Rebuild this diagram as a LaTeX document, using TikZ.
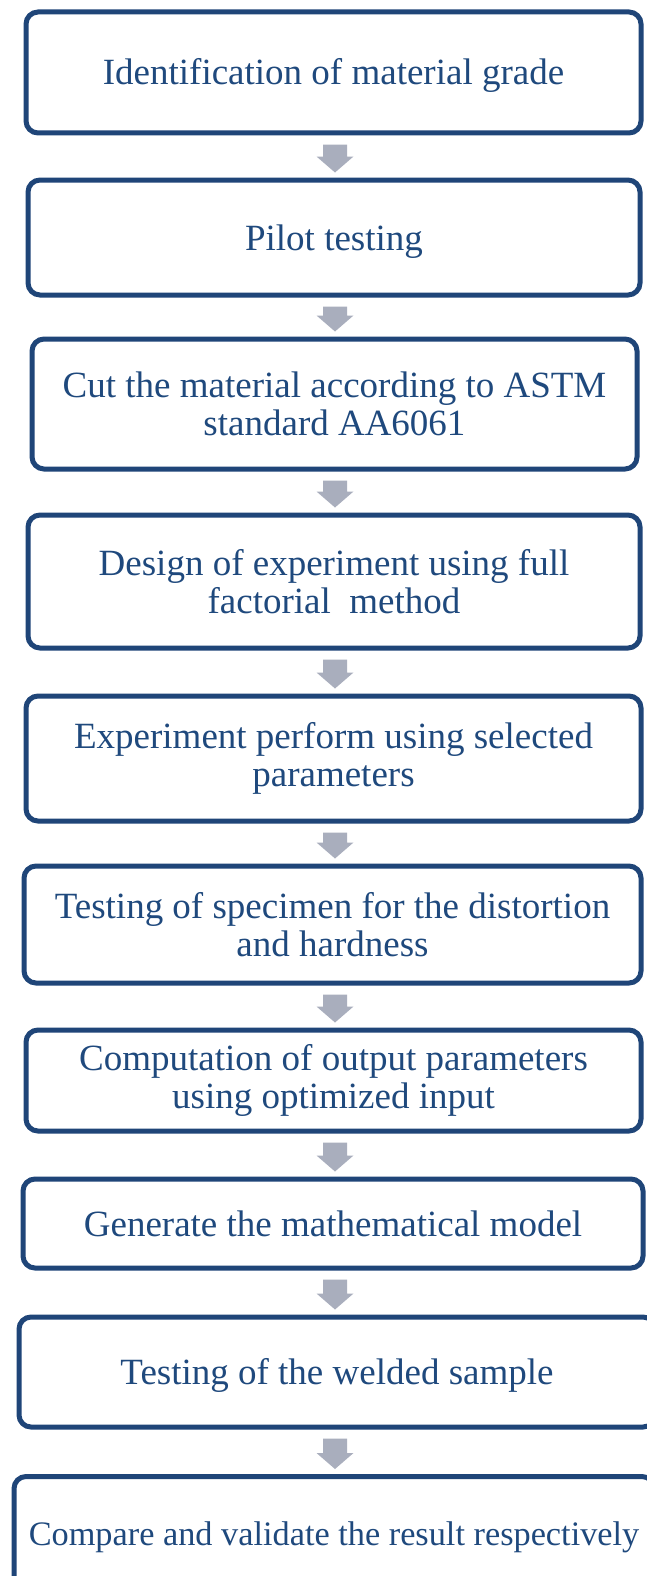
\documentclass[tikz,border=0pt]{standalone}
\usepackage{fontspec}
\setmainfont{Liberation Serif}
\usetikzlibrary{calc}
\definecolor{boxblue}{RGB}{31,69,120}
\definecolor{txtblue}{RGB}{31,73,125}
\definecolor{arrowgrey}{RGB}{169,174,189}
\tikzset{
  stepbox/.style={draw=boxblue, line width=5pt, rounded corners=12pt, fill=white,
    text=txtblue, align=center, inner sep=0pt,
    font=\fontsize{37}{38}\selectfont},
  oneline/.style={text height=33pt, text depth=8pt},
}
\newcommand\flowarrow[2]{%
  \fill[arrowgrey] let \p1=(#1.south), \p2=(#2.north) in
    (323pt,\y1-9pt) -- (347pt,\y1-9pt) -- (347pt,\y2+21pt) -- (353.5pt,\y2+21pt)
    -- (335pt,\y2+5pt) -- (316.5pt,\y2+21pt) -- (323pt,\y2+21pt) -- cycle;}
\begin{document}
\begin{tikzpicture}[x=1pt,y=-1pt]
\clip (0,0) rectangle (647,1576);
\fill[white] (0,0) rectangle (647,1576);
\node[stepbox, oneline, minimum width=615pt, minimum height=121pt] (b1) at (333.5,72.5) {Identification of material grade};
\node[stepbox, oneline, minimum width=612pt, minimum height=115pt] (b2) at (334,237.5) {Pilot testing};
\node[stepbox, minimum width=605pt, minimum height=130pt] (b3) at (334.5,404) {Cut the material according to ASTM\\standard AA6061};
\node[stepbox, minimum width=612pt, minimum height=133pt] (b4) at (334,581.5) {Design of experiment using full\\factorial~ method};
\node[stepbox, minimum width=615pt, minimum height=125pt] (b5) at (333.5,758.5) {Experiment perform using selected\\parameters};
\node[stepbox, minimum width=617pt, minimum height=117pt] (b6) at (332.5,924.5) {Testing of specimen for the distortion\\and hardness};
\node[stepbox, minimum width=615pt, minimum height=101pt] (b7) at (333.5,1080.5) {Computation of output parameters\\using optimized input};
\node[stepbox, oneline, minimum width=620pt, minimum height=89pt] (b8) at (333,1223.5) {Generate the mathematical model};
\node[stepbox, oneline, minimum width=636pt, minimum height=110pt] (b9) at (337,1372) {Testing of the welded sample};
\node[stepbox, minimum width=640pt, minimum height=115pt, text height=30.6pt, text depth=7.4pt, font=\fontsize{34.3}{36}\selectfont] (b10) at (334,1534) {Compare and validate the result respectively};
\flowarrow{b1}{b2}
\flowarrow{b2}{b3}
\flowarrow{b3}{b4}
\flowarrow{b4}{b5}
\flowarrow{b5}{b6}
\flowarrow{b6}{b7}
\flowarrow{b7}{b8}
\flowarrow{b8}{b9}
\flowarrow{b9}{b10}
\end{tikzpicture}
\end{document}
